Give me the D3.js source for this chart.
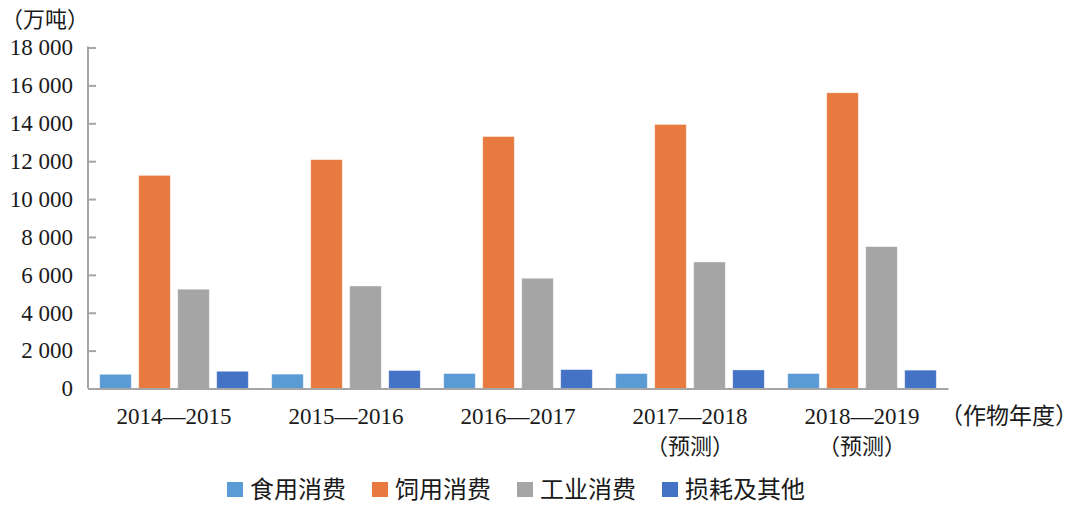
<!DOCTYPE html>
<html>
<head>
<meta charset="utf-8">
<script src="https://cdn.jsdelivr.net/npm/d3@7"></script>
<style>
  html, body { margin: 0; padding: 0; background: #fff; }
  svg { display: block; }
  text { fill: #1a1a1a; }
  .num { font-family: "Liberation Serif", "Times New Roman", "DejaVu Serif", serif; }
  .cjk { font-family: "Noto Sans CJK SC", "Noto Sans", sans-serif; }
</style>
</head>
<body>
<svg id="chart" width="1080" height="510"></svg>
<script>
const categories = ["2014—2015", "2015—2016", "2016—2017", "2017—2018", "2018—2019"];
const subLabels = ["", "", "", "（预测）", "（预测）"];
const seriesNames = ["食用消费", "饲用消费", "工业消费", "损耗及其他"];
const seriesColors = ["#5B9BD5", "#E87A3F", "#A5A5A5", "#4472C4"];
const food = [750, 760, 790, 790, 790];
const feed = [11250, 12080, 13300, 13940, 15610];
const industrial = [5240, 5410, 5820, 6680, 7490];
const loss = [910, 950, 1000, 980, 970];
const yTicks = [0, 2000, 4000, 6000, 8000, 10000, 12000, 14000, 16000, 18000];
const yTitle = "（万吨）";
const xTitle = "（作物年度）";

const seriesValues = [food, feed, industrial, loss];
const rows = categories.map((c, i) => ({
  cat: c,
  values: seriesNames.map((s, j) => ({ key: s, value: seriesValues[j][i], color: seriesColors[j] }))
}));

const svg = d3.select("#chart");
const plotLeft = 88, plotRight = 948, plotTop = 47.5, plotBottom = 388.5;

const x0 = d3.scaleBand().domain(categories).range([plotLeft, plotRight]).paddingInner(0).paddingOuter(0);
const x1 = d3.scaleBand().domain(seriesNames).range([0, x0.bandwidth()]).paddingInner(0.19).paddingOuter(0.3);
const y = d3.scaleLinear().domain([0, 18000]).range([plotBottom, plotTop]);

const locale = d3.formatLocale({ decimal: ".", thousands: " ", grouping: [3], currency: ["", ""] });
const fmt = locale.format(",d");

// Bars
const groups = svg.append("g").selectAll("g").data(rows).join("g")
  .attr("transform", d => `translate(${x0(d.cat)},0)`);
groups.selectAll("rect").data(d => d.values).join("rect")
  .attr("x", d => x1(d.key))
  .attr("width", x1.bandwidth())
  .attr("y", d => y(d.value))
  .attr("height", d => y(0) - y(d.value))
  .attr("fill", d => d.color)
  .attr("stroke", "#ffffff")
  .attr("stroke-opacity", 0.5)
  .attr("stroke-width", 0.8);

// Y axis (inward ticks)
const yAxis = d3.axisRight(y).tickValues(yTicks).tickSize(8).tickFormat("");
const yg = svg.append("g").attr("transform", `translate(${plotLeft},0)`).call(yAxis);
yg.select(".domain").remove();
yg.selectAll(".tick line").attr("stroke", "#a6a6a6").attr("stroke-width", 2);
svg.append("line").attr("x1", plotLeft).attr("x2", plotLeft).attr("y1", y(18000) - 1).attr("y2", plotBottom)
  .attr("stroke", "#a6a6a6").attr("stroke-width", 2);

// Y tick labels
svg.append("g").selectAll("text").data(yTicks).join("text")
  .attr("class", "num")
  .attr("x", 73)
  .attr("y", d => y(d))
  .attr("dy", "0.34em")
  .attr("text-anchor", "end")
  .style("font-size", "23px")
  .text(d => fmt(d));

// X axis line
const xAxis = d3.axisBottom(x0).tickSize(0).tickFormat("");
const xg = svg.append("g").attr("transform", `translate(0,${plotBottom})`).call(xAxis);
xg.select(".domain").attr("stroke", "#a6a6a6").attr("stroke-width", 2);

// Category labels
const lab = svg.append("g").selectAll("g").data(categories).join("g")
  .attr("transform", d => `translate(${x0(d) + x0.bandwidth() / 2},0)`);
lab.append("text").attr("class", "num").attr("y", 424).attr("text-anchor", "middle")
  .style("font-size", "23px").text(d => d);
lab.append("text").attr("class", "cjk").attr("y", 454).attr("text-anchor", "middle")
  .style("font-size", "22px").text((d, i) => subLabels[i]);

// Axis titles
svg.append("text").attr("class", "cjk").attr("x", 1).attr("y", 27).style("font-size", "22px").text(yTitle);
svg.append("text").attr("class", "cjk").attr("x", 940).attr("y", 424).style("font-size", "23px").text(xTitle);

// Legend
const legendX = [227, 372, 517, 662];
const leg = svg.append("g").selectAll("g").data(seriesNames).join("g")
  .attr("transform", (d, i) => `translate(${legendX[i]},482)`);
leg.append("rect").attr("width", 16).attr("height", 15).attr("fill", (d, i) => seriesColors[i]);
leg.append("text").attr("class", "cjk").attr("x", 23).attr("y", 15.5).style("font-size", "24px").text(d => d);
</script>
</body>
</html>
